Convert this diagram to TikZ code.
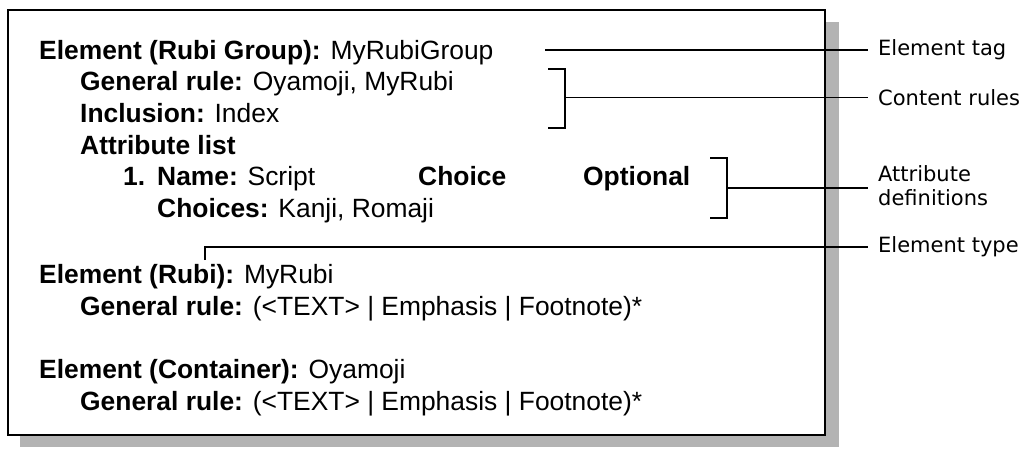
\documentclass[tikz,border=0pt]{standalone}
\usepackage{fontspec}
\setmainfont{Liberation Sans}
\newfontfamily\labelfont{DejaVu Sans}
\definecolor{shadowgray}{HTML}{B3B3B3}
\begin{document}
\begin{tikzpicture}[x=1pt,y=-1pt,
  body/.style={anchor=base west,inner sep=0pt,font=\fontsize{26.4}{31}\selectfont},
  lab/.style={anchor=west,inner xsep=10pt,inner ysep=0pt,align=left,
    font=\labelfont\fontsize{21}{24}\selectfont},
  conn/.style={line width=1.8pt},
  frame/.style={line width=1.3pt,fill=white}]
\useasboundingbox (0,0) rectangle (1026,460);
% shadow and frame
\fill[shadowgray] (20,22) rectangle (839,447);
\draw[frame] (8,10) rectangle (825,435);
% body text
\node[body] (t1) at (39,59.5) {\textbf{Element (Rubi Group):} MyRubiGroup};
\node[body] (t2) at (80,91) {\textbf{General rule:} Oyamoji, MyRubi};
\node[body] (t3) at (80,122.5) {\textbf{Inclusion:} Index};
\node[body] (t4) at (80,154) {\textbf{Attribute list}};
\node[body] (t5a) at (123,185.5) {\textbf{1.}};
\node[body] (t5b) at (157,185.5) {\textbf{Name:} Script};
\node[body] (t5c) at (418,185.5) {\textbf{Choice}};
\node[body] (t5d) at (583,185.5) {\textbf{Optional}};
\node[body] (t6) at (157,217) {\textbf{Choices:} Kanji, Romaji};
\node[body] (t7) at (39,283) {\textbf{Element (Rubi):} MyRubi};
\node[body] (t8) at (80,315) {\textbf{General rule:} (<TEXT> | Emphasis | Footnote)*};
\node[body] (t9) at (39,378) {\textbf{Element (Container):} Oyamoji};
\node[body] (t10) at (80,410) {\textbf{General rule:} (<TEXT> | Emphasis | Footnote)*};
% labels
\node[lab] (lt) at (868,50) {Element tag};
\node[lab] (lc) at (868,97.5) {Content rules};
\node[lab] (la) at (868,186) {Attribute\\definitions};
\node[lab] (ly) at (868,247) {Element type};
% connector anchor points
\coordinate (ct) at (545,50);
\coordinate (cb1) at (548,69);
\coordinate (cb2) at (548,128);
\coordinate (cm) at (565,97.5);
\coordinate (ab1) at (710,158);
\coordinate (ab2) at (710,218);
\coordinate (am) at (727,188);
\coordinate (yt) at (205,260);
% connectors
\draw[conn] (ct) -- (lt.west);
\draw[conn] (cb1) -| (cm) |- (cb2);
\draw[conn] (cm) -- (lc.west);
\draw[conn] (ab1) -| (am) |- (ab2);
\draw[conn] (am) -- (am -| la.west);
\draw[conn] (yt) |- (ly.west);
\end{tikzpicture}
\end{document}
